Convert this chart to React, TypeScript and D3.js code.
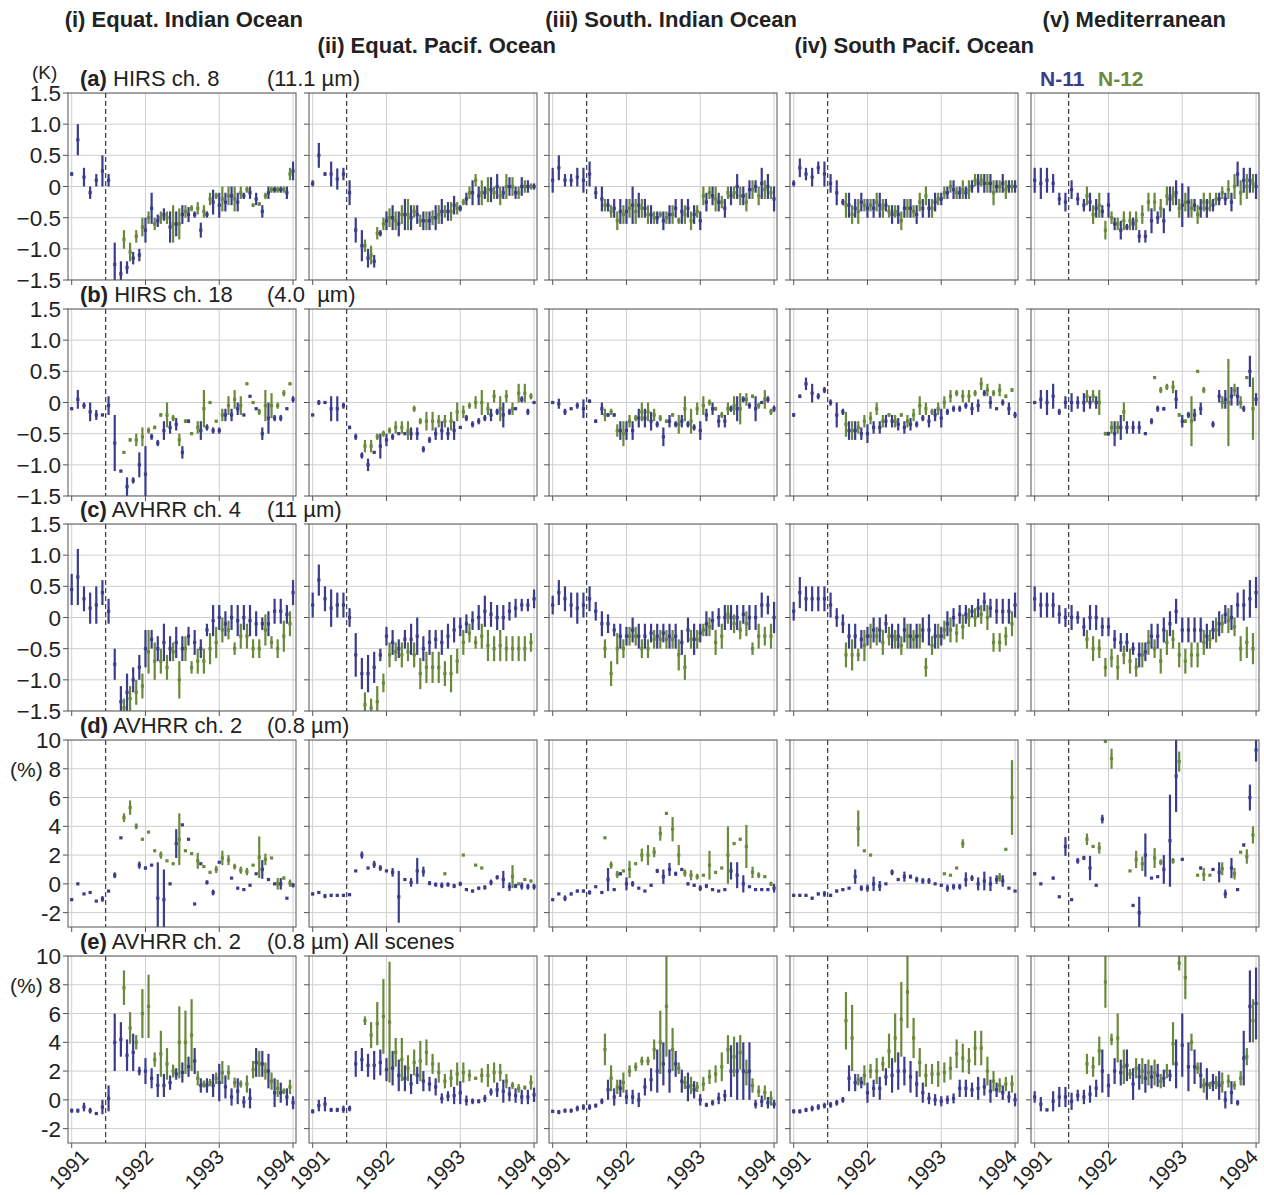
import React from 'react';
import * as d3 from 'd3';

type Pt = [number, number] | null; // [value, half error]

// N-11 monthly points, Jan 1991 .. Jan 1994
// N-12 points start Sep 1991 (offset half a month)
const REGIONS = ['(i) Equat. Indian Ocean', '(ii) Equat. Pacif. Ocean', '(iii) South. Indian Ocean', '(iv) South Pacif. Ocean', '(v) Mediterranean'];
const ROW_TITLES = ['HIRS ch. 8', 'HIRS ch. 18', 'AVHRR ch. 4', 'AVHRR ch. 2', 'AVHRR ch. 2'];
const ROW_TAGS = ['(a)', '(b)', '(c)', '(d)', '(e)'];
const ROW_WAVE = ['(11.1 µm)', '(4.0  µm)', '(11 µm)', '(0.8 µm)', '(0.8 µm) All scenes'];
const YEARS = [1991, 1992, 1993, 1994];
const K_TICKS = [-1.5, -1.0, -0.5, 0, 0.5, 1.0, 1.5];
const PCT_TICKS = [-2, 0, 2, 4, 6, 8, 10];
const ERUPTION = 1991.46;
const N12_START = 8;

const n11_a1: Pt[] = [[0.2,.03],[0.75,.25],[0.15,.15],[-0.1,.1],[0.1,.1],[0.25,.25],[0.1,.1],[-1.25,.35],[-1.4,.2],[-1.3,.1],[-1.15,.1],[-1.1,.1],[-0.7,.2],[-0.35,.25],[-0.55,.1],[-0.45,.1],[-0.65,.25],[-0.6,.2],[-0.45,.15],[-0.45,.12],[-0.45,.05],[-0.7,.12],[-0.45,.05],[-0.25,.2],[-0.3,.2],[-0.25,.15],[-0.15,.15],[-0.25,.15],[-0.15,.05],[-0.1,.1],[-0.2,.1],[-0.4,.1],[-0.1,.1],[-0.05,.05],[-0.05,.05],[-0.1,.1],[0.25,.15]];
const n12_a1: Pt[] = [[-0.85,.15],[-1.05,.15],[-0.8,.1],[-0.65,.15],[-0.5,.1],[-0.6,.1],[-0.5,.1],[-0.5,.1],[-0.6,.3],[-0.6,.25],[-0.4,.1],[-0.35,.05],[-0.35,.1],[-0.4,.1],[-0.2,.1],[-0.15,.05],[-0.2,.2],[-0.15,.15],[-0.2,.2],[-0.1,.1],[-0.05,.05],[-0.3,.03],[-0.28,.03],[-0.15,.05],[-0.05,.05],[-0.05,.05],[-0.05,.05],[0.2,.1]];
const n11_a2: Pt[] = [[0.05,.05],[0.5,.2],[0.2,.03],[0.2,.2],[0.12,.17],[0.2,.1],[-0.1,.2],[-0.7,.2],[-0.95,.25],[-1.15,.15],[-1.2,.1],[-0.75,.05],[-0.55,.15],[-0.5,.2],[-0.6,.2],[-0.45,.25],[-0.5,.2],[-0.45,.15],[-0.55,.15],[-0.55,.15],[-0.5,.2],[-0.4,.2],[-0.4,.15],[-0.3,.15],[-0.35,.05],[-0.2,.1],[-0.1,.2],[-0.15,.15],[-0.1,.1],[-0.05,.2],[0,.2],[-0.1,.1],[0,.15],[-0.1,.1],[0,.15],[0,.1],[0,.05]];
const n12_a2: Pt[] = [[-0.95,.1],[-1.1,.15],[-0.75,.1],[-0.6,.1],[-0.5,.15],[-0.55,.15],[-0.45,.15],[-0.45,.25],[-0.4,.1],[-0.55,.1],[-0.55,.15],[-0.5,.12],[-0.45,.15],[-0.4,.1],[-0.4,.15],[-0.35,.1],[-0.25,.05],[-0.1,.1],[0.1,.1],[-0.1,.2],[-0.05,.2],[-0.1,.1],[-0.15,.15],[0,.2],[0,.15],[-0.1,.1],[0,.1],[0,.05]];
const n11_a3: Pt[] = [[0.1,.2],[0.3,.2],[0.1,.1],[0.1,.1],[0.15,.15],[0.1,.2],[0.2,.2],[-0.1,.1],[-0.2,.2],[-0.3,.1],[-0.35,.15],[-0.4,.2],[-0.4,.2],[-0.3,.3],[-0.3,.2],[-0.35,.15],[-0.45,.15],[-0.5,.1],[-0.55,.15],[-0.45,.15],[-0.35,.15],[-0.4,.2],[-0.35,.15],[-0.45,.15],[-0.55,.15],[-0.25,.15],[-0.15,.15],[-0.25,.15],[-0.35,.15],[-0.15,.15],[0,.2],[-0.15,.15],[-0.05,.15],[0,.1],[0.05,.25],[0,.2],[-0.2,.2]];
const n12_a3: Pt[] = [[-0.3,.1],[-0.4,.1],[-0.55,.15],[-0.45,.15],[-0.35,.15],[-0.4,.2],[-0.35,.15],[-0.45,.15],[-0.5,.1],[-0.45,.05],[-0.5,.1],[-0.45,.15],[-0.55,.05],[-0.45,.15],[-0.55,.15],[-0.4,.1],[-0.15,.15],[-0.1,.1],[-0.2,.2],[-0.25,.1],[-0.1,.1],[-0.1,.1],[-0.15,.15],[-0.25,.15],[-0.05,.15],[-0.15,.15],[-0.05,.15],[-0.1,.1]];
const n11_a4: Pt[] = [[0.05,.05],[0.3,.15],[0.2,.1],[0.15,.15],[0.3,.1],[0.2,.2],[0.05,.15],[-0.1,.2],[-0.25,.05],[-0.3,.2],[-0.35,.15],[-0.25,.15],[-0.35,.15],[-0.35,.15],[-0.3,.2],[-0.3,.1],[-0.45,.15],[-0.45,.15],[-0.35,.15],[-0.35,.15],[-0.45,.15],[-0.35,.15],[-0.35,.15],[-0.25,.15],[-0.2,.1],[-0.1,.1],[-0.05,.15],[-0.1,.1],[-0.1,.1],[0,.1],[0.05,.15],[0.05,.15],[0.05,.15],[0,.1],[0.05,.15],[0,.1],[0,.1]];
const n12_a4: Pt[] = [[-0.3,.2],[-0.45,.15],[-0.4,.2],[-0.3,.1],[-0.3,.1],[-0.25,.15],[-0.35,.15],[-0.4,.1],[-0.4,.1],[-0.55,.15],[-0.35,.15],[-0.4,.1],[-0.25,.15],[-0.15,.15],[-0.35,.15],[-0.2,.1],[-0.1,.1],[0,.1],[-0.1,.1],[-0.05,.15],[-0.05,.15],[0.1,.1],[0.1,.1],[0.05,.15],[-0.1,.2],[0,.1],[-0.05,.15],[0,.1]];
const n11_a5: Pt[] = [[0.1,.2],[0.05,.25],[0.1,.2],[0.05,.15],[-0.2,.1],[-0.25,.15],[-0.05,.15],[-0.2,.1],[-0.3,.1],[-0.25,.15],[-0.35,.15],[-0.4,.1],[-0.3,.2],[-0.6,.1],[-0.7,.15],[-0.65,.05],[-0.6,.1],[-0.8,.1],[-0.8,.1],[-0.55,.2],[-0.5,.1],[-0.55,.2],[-0.2,.2],[-0.1,.2],[-0.3,.35],[-0.25,.25],[-0.3,.1],[-0.35,.15],[-0.35,.15],[-0.3,.1],[-0.2,.1],[-0.2,.1],[-0.25,.15],[0.2,.2],[0.1,.2],[0.1,.2],[0,.2]];
const n12_a5: Pt[] = [[-0.15,.15],[-0.45,.15],[-0.3,.2],[-0.7,.15],[-0.5,.1],[-0.6,.1],[-0.55,.15],[-0.55,.15],[-0.55,.15],[-0.45,.15],[-0.25,.15],[-0.25,.15],[-0.35,.15],[-0.15,.15],[-0.15,.15],[-0.35,.15],[-0.25,.15],[-0.35,.15],[-0.45,.15],[-0.25,.15],[-0.25,.15],[-0.2,.1],[-0.1,.1],[-0.05,.15],[0,.2],[-0.1,.2],[0,.2],[0.05,.15]];

const n11_b1: Pt[] = [[-0.1,.02],[0.05,.15],[-0.05,.05],[-0.15,.15],[-0.2,.08],[-0.2,.02],[-0.05,.15],[-0.65,.45],[-1.1,.02],[-1.35,.15],[-1.25,.05],[-1.0,.2],[-1.15,.45],[-0.55,.05],[-0.65,.05],[-0.45,.15],[-0.4,.1],[-0.35,.1],[-0.8,.1],[-0.3,.03],null,[-0.45,.15],[-0.4,.05],[-0.45,.05],[-0.45,.05],[-0.2,.1],[-0.2,.1],[-0.1,.1],[-0.2,.02],[0.1,.02],[-0.1,.02],[-0.5,.1],[-0.25,.25],[-0.25,.05],[-0.25,.05],[-0.1,.02],[0.05,.05]];
const n12_b1: Pt[] = [[-0.8,.02],[-0.6,.03],[-0.6,.1],[-0.55,.15],[-0.45,.05],[-0.4,.03],[-0.2,.03],[-0.2,.2],[-0.25,.05],[-0.6,.1],[-0.3,.03],[-0.5,.02],[-0.4,.1],[-0.1,.3],[0,.02],[-0.3,.02],[-0.2,.1],[-0.05,.15],[0.05,.15],[-0.05,.15],[0.3,.02],[0,.02],[-0.15,.05],[-0.05,.25],[-0.05,.2],[-0.05,.05],[0.15,.05],[0.3,.02]];
const n11_b2: Pt[] = [[-0.2,.02],[0,.04],[0,.02],[-0.1,.2],[-0.1,.2],[-0.05,.05],[-0.4,.03],[-0.55,.05],[-0.85,.05],[-1.0,.1],[-0.8,.02],[-0.7,.2],[-0.6,.1],[-0.55,.05],[-0.5,.02],[-0.5,.02],[-0.5,.1],[-0.5,.1],[-0.75,.05],[-0.6,.05],[-0.5,.1],[-0.45,.15],[-0.5,.1],[-0.45,.15],[-0.4,.02],[-0.25,.05],[-0.35,.05],[-0.3,.05],[-0.25,.05],[-0.2,.1],[-0.15,.05],[-0.2,.2],[-0.15,.05],[-0.1,.02],[0.05,.05],[-0.15,.05],[0,.02]];
const n12_b2: Pt[] = [[-0.7,.1],[-0.7,.1],[-0.55,.05],[-0.5,.05],[-0.45,.05],[-0.4,.1],[-0.4,.1],[-0.45,.15],[-0.1,.05],[-0.3,.05],[-0.3,.15],[-0.3,.15],[-0.3,.1],[-0.3,.1],[-0.3,.15],[-0.15,.15],[-0.15,.1],[-0.05,.05],[0,.1],[0,.2],[-0.1,.1],[0.1,.1],[-0.1,.2],[0.1,.1],[-0.1,.1],[0.15,.15],[0.15,.15],[0.1,.05]];
const n11_b3: Pt[] = [[0,.02],[-0.02,.08],[-0.15,.05],[-0.1,.02],[-0.05,.05],[-0.1,.15],[0.02,.03],[-0.3,.03],[-0.1,.1],[-0.2,.03],[-0.2,.03],[-0.45,.15],[-0.45,.15],[-0.45,.15],[-0.25,.15],[-0.25,.15],[-0.3,.15],[-0.35,.05],[-0.55,.15],[-0.3,.1],[-0.35,.05],[-0.3,.1],[-0.35,.05],[-0.4,.05],[-0.45,.15],[-0.2,.1],[-0.1,.1],[-0.3,.1],[-0.3,.1],[-0.1,.05],[-0.1,.2],[0.05,.05],[-0.05,.05],[-0.1,.2],[0,.02],[0.05,.05],[-0.1,.05]];
const n12_b3: Pt[] = [[-0.2,.1],[-0.15,.05],[-0.45,.1],[-0.5,.2],[-0.3,.1],[-0.25,.05],[-0.15,.15],[-0.15,.15],[-0.2,.1],[-0.25,.05],[-0.3,.03],[-0.2,.03],[-0.35,.15],[-0.1,.2],[-0.3,.2],[-0.1,.1],[-0.05,.15],[0,.05],[-0.1,.03],[-0.2,.05],[-0.1,.1],[-0.05,.15],[-0.1,.25],[0.05,.1],[0.1,.03],[-0.05,.05],[0.05,.15],[-0.15,.05]];
const n11_b4: Pt[] = [[-0.2,.03],[0.1,.03],[0.3,.1],[0.15,.15],[0.1,.05],[0.2,.05],[0,.05],[-0.2,.2],[-0.15,.05],[-0.45,.15],[-0.45,.15],[-0.5,.1],[-0.5,.15],[-0.4,.1],[-0.4,.1],[-0.3,.1],[-0.3,.1],[-0.35,.1],[-0.4,.1],[-0.35,.1],[-0.35,.05],[-0.25,.05],[-0.3,.1],[-0.2,.1],[-0.25,.15],[-0.15,.05],[-0.1,.05],[-0.1,.05],[-0.05,.05],[-0.1,.1],[-0.05,.1],[0.15,.05],[0,.1],[-0.1,.02],[0,.05],[-0.1,.1],[-0.2,.05]];
const n12_b4: Pt[] = [[-0.35,.2],[-0.45,.15],[-0.4,.1],[-0.3,.1],[-0.25,.1],[-0.1,.1],[-0.3,.1],[-0.2,.03],[-0.3,.1],[-0.2,.03],[-0.3,.1],[-0.2,.1],[-0.05,.15],[-0.1,.1],[-0.15,.05],[-0.1,.1],[0,.1],[0.1,.1],[0.15,.05],[0.1,.1],[0.1,.1],[0.15,.05],[0.3,.1],[0.2,.1],[0.15,.05],[0.2,.1],[0.1,.03],[0.2,.03]];
const n11_b5: Pt[] = [[0,.02],[0.05,.15],[0,.2],[0.1,.2],[-0.15,.05],[0,.1],[0,.15],[0,.1],[0,.15],[0,.1],[0,.1],null,[-0.5,.03],[-0.5,.2],[-0.4,.2],[-0.4,.1],[-0.4,.1],[-0.4,.1],[-0.5,.02],[-0.3,.05],[-0.1,.05],[-0.1,.03],null,[0.05,.15],[-0.3,.1],[-0.2,.05],[-0.2,.1],[-0.1,.1],null,[-0.35,.05],[0.1,.1],[0.05,.15],[0.1,.15],[0.1,.15],[-0.1,.05],[0.5,.25],[0.05,.1]];
const n12_b5: Pt[] = [[0.1,.1],[0.1,.1],[0,.2],[-0.5,.03],[-0.4,.1],[-0.4,.1],[-0.15,.15],null,null,null,null,[0.4,.02],[0.2,.05],[0.25,.05],[0.25,.1],[-0.2,.03],[-0.3,.03],[-0.3,.4],[0.5,.02],[0.2,.05],null,null,[0,.1],[0,.7],[0.2,.1],[0,.1],[0.4,.02],[-0.1,.5]];

const n11_c1: Pt[] = [[0.45,.25],[0.65,.45],[0.3,.2],[0.15,.25],[0.2,.3],[0.4,.2],[0.1,.2],[-0.75,.25],[-1.35,.25],[-1.2,.3],[-1.0,.2],[-0.8,.2],[-0.5,.3],[-0.35,.15],[-0.5,.2],[-0.4,.3],[-0.5,.2],[-0.4,.25],[-0.5,.2],[-0.3,.15],[-0.4,.2],[-0.5,.15],[-0.2,.1],[-0.05,.25],[0,.2],[-0.1,.2],[0,.2],[-0.05,.25],[0,.2],[-0.05,.25],[-0.1,.2],[-0.1,.1],[-0.1,.2],[0.1,.2],[0.1,.2],[0.05,.15],[0.4,.2]];
const n12_c1: Pt[] = [[-1.45,.15],[-1.3,.2],[-1.2,.2],[-1.1,.2],[-0.55,.35],[-0.7,.3],[-0.7,.2],[-0.8,.2],[-0.55,.15],[-1.0,.3],[-0.5,.2],[-0.8,.1],[-0.7,.2],[-0.7,.2],[-0.5,.25],[-0.4,.25],[-0.2,.2],[-0.2,.15],[-0.5,.1],[-0.3,.2],[-0.3,.2],[-0.5,.15],[-0.5,.15],[-0.2,.25],[-0.4,.1],[-0.5,.15],[-0.3,.25],[-0.1,.2]];
const n11_c2: Pt[] = [[0.2,.2],[0.6,.25],[0.3,.2],[0.15,.3],[0.2,.2],[0.2,.2],[0,.15],[-0.6,.35],[-0.9,.25],[-0.9,.3],[-0.8,.25],[-0.6,.1],[-0.3,.15],[-0.4,.2],[-0.5,.15],[-0.35,.15],[-0.35,.25],[-0.3,.3],[-0.5,.2],[-0.4,.2],[-0.35,.15],[-0.4,.2],[-0.3,.2],[-0.2,.2],[-0.15,.15],[-0.1,.15],[-0.05,.15],[0,.2],[0.1,.25],[0.05,.2],[0,.2],[0,.2],[0.1,.15],[0.15,.15],[0.2,.1],[0.2,.1],[0.3,.15]];
const n12_c2: Pt[] = [[-1.4,.2],[-1.45,.15],[-1.35,.25],[-1.05,.15],[-0.6,.2],[-0.55,.15],[-0.6,.2],[-0.55,.15],[-0.6,.2],[-0.9,.25],[-0.8,.25],[-0.8,.25],[-0.8,.25],[-0.9,.2],[-0.9,.3],[-0.7,.2],[-0.4,.2],[-0.25,.15],[-0.4,.1],[-0.3,.2],[-0.45,.25],[-0.5,.2],[-0.45,.25],[-0.5,.2],[-0.5,.2],[-0.5,.2],[-0.5,.2],[-0.4,.15]];
const n11_c3: Pt[] = [[0.2,.15],[0.4,.2],[0.3,.2],[0.2,.2],[0.15,.25],[0.2,.2],[0.3,.2],[0.1,.15],[-0.1,.2],[-0.1,.15],[-0.2,.1],[-0.3,.2],[-0.3,.15],[-0.2,.2],[-0.3,.2],[-0.3,.2],[-0.25,.15],[-0.3,.2],[-0.25,.15],[-0.3,.2],[-0.3,.2],[-0.4,.2],[-0.2,.2],[-0.35,.25],[-0.25,.15],[-0.1,.2],[-0.05,.15],[0,.15],[0,.2],[0,.2],[0,.2],[0.05,.15],[0,.2],[0,.2],[0.2,.2],[0.2,.15],[0,.25]];
const n12_c3: Pt[] = [[-0.5,.15],[-0.9,.2],[-0.5,.25],[-0.5,.15],[-0.3,.15],[-0.3,.15],[-0.5,.15],[-0.5,.15],[-0.35,.15],[-0.35,.15],[-0.35,.15],[-0.35,.15],[-0.6,.25],[-0.8,.2],[-0.35,.15],[-0.35,.15],[-0.2,.1],[-0.15,.15],[-0.4,.2],[-0.3,.2],[0.05,.15],[-0.1,.15],[-0.2,.15],[-0.1,.2],[-0.5,.1],[-0.3,.2],[-0.3,.15],[-0.3,.2]];
const n11_c4: Pt[] = [[0.1,.15],[0.4,.25],[0.3,.2],[0.3,.2],[0.3,.2],[0.3,.2],[0.2,.2],[0,.15],[-0.1,.15],[-0.3,.2],[-0.3,.2],[-0.35,.15],[-0.3,.15],[-0.2,.2],[-0.2,.2],[-0.1,.15],[-0.3,.2],[-0.3,.2],[-0.2,.2],[-0.3,.2],[-0.3,.2],[-0.2,.2],[-0.2,.25],[-0.3,.2],[-0.3,.15],[-0.1,.2],[0,.15],[0.05,.15],[0.05,.15],[0.1,.1],[0.15,.15],[0.25,.15],[0.15,.15],[0.1,.2],[0.1,.2],[0.1,.2],[0.2,.2]];
const n12_c4: Pt[] = [[-0.6,.2],[-0.6,.25],[-0.6,.1],[-0.45,.25],[-0.3,.2],[-0.3,.15],[-0.4,.2],[-0.3,.15],[-0.35,.15],[-0.45,.15],[-0.3,.2],[-0.35,.15],[-0.3,.2],[-0.8,.15],[-0.45,.15],[-0.3,.2],[-0.2,.15],[-0.2,.2],[-0.25,.15],[-0.15,.2],[0,.15],[0,.15],[0.05,.15],[0,.2],[-0.4,.15],[-0.4,.15],[-0.3,.15],[-0.1,.2]];
const n11_c5: Pt[] = [[0.3,.2],[0.2,.2],[0.2,.2],[0.2,.2],[0.05,.15],[0,.15],[0,.2],[0,.1],[-0.15,.15],[0,.2],[0,.2],[-0.15,.15],[-0.15,.15],[-0.35,.15],[-0.4,.15],[-0.4,.15],[-0.5,.1],[-0.6,.2],[-0.55,.15],[-0.3,.2],[-0.3,.2],[-0.2,.2],[-0.1,.2],[0.1,.2],[-0.2,.2],[-0.2,.2],[-0.2,.2],[-0.2,.2],[-0.3,.2],[-0.2,.15],[-0.1,.2],[0.05,.15],[0,.2],[0.2,.2],[0.2,.25],[0.3,.3],[0.4,.25]];
const n12_c5: Pt[] = [[-0.35,.15],[-0.5,.2],[-0.5,.15],[-0.8,.15],[-0.65,.15],[-0.8,.2],[-0.6,.15],[-0.7,.2],[-0.8,.15],[-0.6,.2],[-0.4,.2],[-0.5,.15],[-0.7,.2],[-0.4,.2],[-0.35,.15],[-0.6,.2],[-0.7,.2],[-0.6,.2],[-0.6,.2],[-0.4,.2],[-0.35,.15],[-0.2,.2],[-0.1,.15],[-0.05,.2],[-0.15,.15],[-0.5,.2],[-0.4,.25],[-0.5,.25]];

const n11_d1: Pt[] = [[-1.1,.05],[0,.05],[-0.7,.05],[-0.6,.05],[-1.2,.05],[-1.05,.2],[-0.5,.05],[0.6,.2],[3.2,.05],null,null,[1.3,.25],[1.1,.1],[1.3,.05],[-1,2.5],[-1.1,2.1],[0,.05],[2.8,1.0],[4.1,.05],[3.1,.05],[-1.4,.05],[1.4,.05],[0.1,.15],[-0.6,.2],[1.5,.05],null,[0.4,.05],[-0.3,.05],[-0.4,.05],[-0.1,.05],[0.7,.05],[1.0,.65],[0.3,.05],[0,.05],[0,.4],[-1.0,.05],[-0.1,.15]];
const n12_d1: Pt[] = [[4.6,.3],[5.3,.5],[4.0,.2],[3.1,.05],[3.6,.05],[2.3,.05],[2.0,.25],[1.6,.05],[1.4,.05],[3.1,1.8],[2.3,.05],[2.1,.05],[1.6,.55],[1.2,.05],[0.8,.05],[1.0,.25],[1.8,.5],[1.65,.35],[1.2,.2],[0.95,.25],[0.85,.25],[1.3,.05],[1.85,1.45],[1.7,.4],[1.8,.05],[0,.4],[0.4,.1],[0.05,.25]];
const n11_d2: Pt[] = [[-0.7,.1],[-0.6,.05],[-0.85,.15],[-0.8,.1],[-0.8,.05],[-0.8,.1],[-0.75,.1],[0.9,.05],[2.0,.25],[1.1,.05],[1.35,.25],[1.1,.2],[0.9,.05],[0.8,.3],[-0.9,1.8],[0.3,.1],[0.1,.3],[0.9,.9],[0.85,.35],[0.05,.15],[-0.05,.15],[-0.1,.2],[-0.05,.15],[-0.15,.15],[0,.15],[-0.4,.1],[-0.5,.1],[-0.3,.1],[-0.25,.15],[0.1,.2],[0.45,.15],[0.3,.6],[-0.2,.3],[-0.15,.15],[-0.15,.25],[-0.2,.2],[-0.2,.2]];
const n12_d2: Pt[] = [null,null,null,null,null,null,null,null,null,null,null,null,null,[0.7,.05],null,null,[2.0,.05],null,[1.3,.05],[1.1,.05],null,null,null,null,[0.5,.8],[0,.05],[0.3,.05],[0.2,.05]];
const n11_d3: Pt[] = [[-1.1,.05],[-0.7,.05],[-1.0,.2],[-0.7,.1],[-0.5,.1],[-0.5,.1],[-0.6,.15],[-0.2,.05],[-0.6,.1],[0.3,.8],[-0.4,.05],[0.7,.1],[0,.45],[0,.2],[-0.3,.05],[-0.5,.05],[-0.1,.1],[0.9,.15],[0.5,.5],[1.0,.45],[0.7,.15],[1.0,.05],[0,.1],[-0.1,.1],[-0.3,.2],[-0.15,.15],[-0.4,.05],[-0.5,.05],[-0.4,.05],[0.9,.6],[0.6,.9],[0,.6],[-0.2,.05],[-0.4,.05],[-0.4,.05],[-0.4,.05],[-0.3,.3]];
const n12_d3: Pt[] = [[3.2,.05],[1.3,.25],[0.65,.25],[0.9,.05],[1.0,.6],[1.4,.05],[2.0,.45],[2.0,.7],[2.2,.35],[3.5,.5],[4.9,.05],[3.8,.85],[2.0,.7],[0.75,.25],[0.6,.35],[0.5,.2],[0.6,.05],[1.3,1.0],[0.8,.05],[1.1,.05],[2.0,2.0],[2.8,.05],[3.1,.05],[2.6,1.5],[0.8,.4],[0.6,.2],[0.5,.05],[0,.15]];
const n11_d4: Pt[] = [[-0.8,.1],[-0.8,.1],[-0.8,.1],[-1.0,.1],[-0.7,.1],[-0.7,.2],[-0.8,.1],[-0.5,.1],[-0.4,.1],[-0.3,.05],[0.5,.5],[-0.3,.2],[-0.3,.25],[0,.5],[-0.15,.35],[0,.05],[0.8,.2],[0.3,.05],[0.5,.35],[0.5,.15],[0.3,.2],[0.2,.2],[0.2,.2],[0,.05],[-0.1,.1],[-0.3,.25],[-0.2,.2],[-0.2,.2],[0.3,.5],[0.4,.2],[0,.45],[0.2,.65],[0,.5],[0.3,.3],[0.2,.4],[-0.3,.05],[-0.5,.05]];
const n12_d4: Pt[] = [null,null,[3.85,1.25],[2.3,.05],[2.0,.05],null,null,null,null,null,null,null,null,null,null,null,[0.7,.05],[0.6,.05],[1.1,.05],[2.8,.3],null,null,null,null,null,[0.45,.3],[2.4,.05],[6.0,2.6]];
const n11_d5: Pt[] = [[0.7,.1],[0,.05],null,[0.4,.1],[-0.9,.05],[2.6,.65],[-1.1,.05],[1.6,.2],[1.8,.15],[1.1,.85],[-0.1,.05],[4.5,.3],null,null,null,null,[-1.5,.05],[-2.0,1.1],[2.0,1.5],[0.4,.05],[0.5,.05],[1.0,1.0],[3.0,3.2],[7.5,2.5],[1.7,.05],null,null,[1.1,.1],null,[1.0,.1],[0.8,.7],[-0.7,.3],[1.1,.7],[-0.4,.05],[2.7,.1],[6.0,.9],[9.3,.8]];
const n12_d5: Pt[] = [[3.1,.4],[2.6,.05],[2.5,.4],[9.9,.1],[8.7,.7],null,null,[0.9,.05],[1.7,.6],[1.4,.5],null,[1.8,.7],[1.5,.2],null,[1.6,.2],[8.5,.7],null,null,[0.6,.05],[0.65,.45],[0.6,.05],null,[1.05,.45],null,[0.7,.4],[2.2,.05],[1.9,.5],[3.4,.6]];

const n11_e1: Pt[] = [[-0.75,.15],[-0.75,.15],[-0.5,.3],[-0.75,.2],[-0.95,.1],[-0.5,.5],[0.1,.9],[4.0,2.0],[4.2,1.2],[3.1,1.1],[3.3,1.3],[2.0,.3],[2.0,.9],[1.5,.7],[1.0,.8],[1.0,.8],[1.2,.5],[1.8,.4],[1.9,.7],[2.3,.7],[2.7,.9],[1.0,.5],[1.0,.5],[1.0,.8],[1.2,1.3],[0.9,.8],[0.2,.6],[0.6,.9],[-0.15,.4],[0.1,.7],[2.6,1.0],[2.5,.9],[2.0,1.2],[0.5,1.0],[0.5,.7],[0.2,.6],[-0.2,.45]];
const n12_e1: Pt[] = [[7.8,1.2],[5.0,1.1],[4.0,.5],[6.0,1.7],[6.5,2.2],[2.8,.5],[3.2,1.6],[2.5,1.1],[2.0,.45],[4.0,2.5],[4.0,2.2],[4.5,2.5],[1.5,.5],[1.1,.25],[1.2,.25],[1.5,.4],[1.9,.8],[1.9,.5],[1.2,.35],[1.1,.25],[1.1,.6],[2.1,.6],[2.5,.9],[2.0,.6],[1.3,.6],[0.8,.6],[0.6,.2],[0.9,.5]];
const n11_e2: Pt[] = [[-0.8,.15],[-0.4,.4],[-0.3,.5],[-0.7,.15],[-0.7,.15],[-0.65,.25],[-0.6,.2],[2.5,.9],[2.8,.8],[2.4,.8],[2.4,1.0],[2.6,.9],[2.1,.8],[2.2,1.2],[1.7,1.1],[1.5,.9],[1.1,.7],[1.7,.6],[1.3,.7],[1.1,.5],[0.9,.6],[0.1,.35],[0.25,.35],[0.3,.6],[0.5,.8],[-0.05,.35],[-0.1,.2],[-0.1,.15],[0.1,.25],[0.55,.25],[0.7,.5],[0.6,.8],[0.4,.5],[0.3,.5],[0.2,.5],[0.2,.5],[0.35,.5]];
const n12_e2: Pt[] = [[5.5,.3],[4.5,.9],[5.3,1.5],[5.8,2.6],[5.4,4.2],[3.3,1.0],[2.8,1.5],[2.2,.9],[2.6,.9],[2.7,1.4],[3.3,.9],[2.5,.7],[1.9,.7],[1.3,.5],[1.5,.6],[1.8,.8],[1.9,.7],[1.7,.4],[1.5,.1],[1.7,.5],[1.7,.8],[1.9,.7],[1.9,.6],[1.3,.5],[1.0,.25],[0.8,.3],[0.85,.15],[1.2,.5]];
const n11_e3: Pt[] = [[-0.8,.1],[-0.85,.15],[-0.75,.15],[-0.75,.15],[-0.6,.2],[-0.5,.2],[-0.5,.2],[-0.4,.15],[-0.1,.2],[0.7,.7],[0.2,.6],[0.8,.6],[0.2,.5],[0.2,.5],[0,.5],[0.9,.6],[1.4,.8],[2.0,1.5],[2.5,1.5],[2.0,1.5],[2.5,.9],[1.3,.8],[0.9,1.0],[0.7,.6],[0,.4],[-0.35,.15],[-0.2,.2],[0.1,.4],[0.3,.4],[2.0,1.8],[2.0,2.0],[2.0,2.0],[2.0,2.0],[-0.3,.3],[-0.1,.4],[-0.2,.4],[-0.3,.3]];
const n12_e3: Pt[] = [[3.5,1.1],[1.5,.9],[0.9,.5],[1.2,.7],[2.0,.4],[2.3,.3],[2.7,.3],[2.7,.3],[3.5,.7],[4.0,2.2],[6.5,3.5],[3.5,1.5],[2.2,.4],[1.2,.45],[1.0,.6],[0.9,.35],[1.1,.5],[1.6,.5],[1.8,.6],[2.3,1.0],[3.5,1.0],[3.0,1.4],[3.3,1.2],[1.9,.9],[1.0,.5],[0.6,.4],[0.5,.5],[0.1,.5]];
const n11_e4: Pt[] = [[-0.8,.15],[-0.8,.15],[-0.7,.15],[-0.6,.2],[-0.5,.2],[-0.4,.2],[-0.35,.2],[-0.2,.2],[0,.2],[1.5,.9],[1.2,.6],[1.2,.4],[0.5,.7],[0.8,.6],[0.8,.8],[1.6,.6],[1.7,1.2],[2.0,1.3],[2.0,1.0],[1.6,1.1],[1.1,.9],[0.5,.7],[0.1,.4],[0,.4],[-0.1,.35],[0,.3],[0.1,.35],[0.8,.6],[0.8,.6],[0.7,.5],[0.8,.8],[0.9,.6],[0.6,.8],[0.7,.5],[0.5,.5],[0.2,.4],[0,.45]];
const n12_e4: Pt[] = [[5.5,2.0],[4.3,2.3],[1.4,.4],[1.7,.7],[2.0,.5],[2.0,.9],[2.5,.5],[3.4,1.2],[4.3,1.7],[5.6,2.6],[7.5,2.5],[4.3,1.4],[2.6,1.0],[1.7,.8],[1.8,.7],[1.8,.9],[1.9,.7],[2.2,.8],[3.2,1.0],[2.9,1.0],[2.7,.9],[3.6,1.2],[3.6,1.2],[2.0,1.0],[1.3,.7],[1.0,.5],[1.1,.5],[1.1,.6]];
const n11_e5: Pt[] = [[0.2,.4],[-0.3,.5],[-0.7,.1],[-0.1,.7],[0.2,.7],[0.2,.7],[-0.1,.6],[0.3,.4],[0.2,.5],[0.4,.6],[0.8,.6],[2.0,1.5],[1.0,.8],[2.0,.9],[1.9,.9],[2.4,1.1],[1.1,1.1],[1.6,.9],[1.5,1.0],[1.6,.8],[1.7,.8],[1.5,.6],[1.7,.4],[2.5,1.7],[3.8,2.2],[2.3,1.7],[2.3,1.2],[1.7,.9],[1.1,1.1],[1.2,.6],[1.0,1.0],[0,.6],[0.5,.8],[-0.2,.2],[2.9,1.9],[6.5,2.5],[6.7,2.5]];
const n12_e5: Pt[] = [[2.5,.7],[2.3,.7],[3.4,1.0],[8.2,1.8],[4.2,.4],[4.3,1.7],[2.3,1.2],[1.8,.35],[2.2,.7],[2.0,.9],[1.9,.9],[1.9,.9],[1.3,.5],[2.0,.5],[3.9,1.5],[9.5,.5],[8.5,1.5],[4.0,.6],[2.2,.4],[1.0,.5],[1.0,.25],[1.2,.45],[1.2,.7],[1.3,.45],[1.0,.3],[1.5,.5],[3.0,.6],[5.5,1.5]];

const N11: Pt[][][] = [
  [n11_a1, n11_a2, n11_a3, n11_a4, n11_a5],
  [n11_b1, n11_b2, n11_b3, n11_b4, n11_b5],
  [n11_c1, n11_c2, n11_c3, n11_c4, n11_c5],
  [n11_d1, n11_d2, n11_d3, n11_d4, n11_d5],
  [n11_e1, n11_e2, n11_e3, n11_e4, n11_e5],
];
const N12: Pt[][][] = [
  [n12_a1, n12_a2, n12_a3, n12_a4, n12_a5],
  [n12_b1, n12_b2, n12_b3, n12_b4, n12_b5],
  [n12_c1, n12_c2, n12_c3, n12_c4, n12_c5],
  [n12_d1, n12_d2, n12_d3, n12_d4, n12_d5],
  [n12_e1, n12_e2, n12_e3, n12_e4, n12_e5],
];

const BLUE = '#3b3d8c';
const GREEN = '#6a8a3b';
const GRID = '#cfcfcf';
const FONT = '"Liberation Sans", Arial, sans-serif';

const COL_X = [68, 309, 549, 790, 1031];
const ROW_Y = [93, 309, 524, 740, 956];
const W = 228;
const H = 187;
// right ends of the region titles, staggered on two lines
const REGION_END = [303, 556, 797, 1034, 1226];
// year labels sit a little right of their ticks, less so towards 1994
const YEAR_SHIFT = [18, 9, 6, 3];

function Series({ data, start, x, y, color }: any) {
  return (
    <g>
      {data.map((p: Pt, i: number) => {
        if (!p) return null;
        const t = 1991 + (start + i) / 12;
        const cx = x(t);
        const [v, e] = p;
        return (
          <g key={i}>
            <line x1={cx} x2={cx} y1={y(v + e)} y2={y(v - e)} stroke={color} strokeWidth={2.2} />
            <rect x={cx - 1.6} y={y(v) - 1.6} width={3.2} height={3.2} fill={color} />
          </g>
        );
      })}
    </g>
  );
}

function Panel({ row, col }: { row: number; col: number }) {
  const x0 = COL_X[col];
  const y0 = ROW_Y[row];
  const pct = row >= 3;
  const ticks = pct ? PCT_TICKS : K_TICKS;
  const x = d3.scaleLinear().domain([1990.95, 1994.04]).range([x0, x0 + W]);
  const y = d3.scaleLinear().domain(pct ? [-3, 10] : [-1.5, 1.5]).range([y0 + H, y0]);
  const id = `clip-${row}-${col}`;
  const fmt = (v: number) => (pct ? String(v) : v === 0 ? '0' : d3.format('.1f')(v));
  return (
    <g>
      <defs>
        <clipPath id={id}>
          <rect x={x0} y={y0} width={W} height={H} />
        </clipPath>
      </defs>
      <g clipPath={`url(#${id})`}>
        {ticks.map((t) => (
          <line key={'gy' + t} x1={x0} x2={x0 + W} y1={y(t)} y2={y(t)} stroke={GRID} strokeWidth={1} />
        ))}
        {YEARS.map((yr) => (
          <line key={'gx' + yr} x1={x(yr)} x2={x(yr)} y1={y0} y2={y0 + H} stroke={GRID} strokeWidth={1} />
        ))}
        <line x1={x(ERUPTION)} x2={x(ERUPTION)} y1={y0} y2={y0 + H} stroke="#444" strokeWidth={1.3} strokeDasharray="5,3" />
        <Series data={N12[row][col]} start={N12_START + 0.5} x={x} y={y} color={GREEN} />
        <Series data={N11[row][col]} start={0} x={x} y={y} color={BLUE} />
      </g>
      <rect x={x0} y={y0} width={W} height={H} fill="none" stroke="#555" strokeWidth={1} />
      {ticks.map((t) => (
        <line key={'ty' + t} x1={x0 - 5} x2={x0} y1={y(t)} y2={y(t)} stroke="#555" strokeWidth={1} />
      ))}
      {YEARS.map((yr) => (
        <line key={'tx' + yr} x1={x(yr)} x2={x(yr)} y1={y0 + H} y2={y0 + H + 5} stroke="#555" strokeWidth={1} />
      ))}
      {col === 0 &&
        ticks.map((t) => (
          <text key={'ly' + t} x={x0 - 7} y={y(t)} dy="0.36em" textAnchor="end" fontSize={22.5} fill="#222">
            {fmt(t)}
          </text>
        ))}
      {row === 4 &&
        YEARS.map((yr, i) => (
          <text
            key={'lx' + yr}
            transform={`translate(${x(yr) + YEAR_SHIFT[i] - 10},${y0 + H + 5}) rotate(-45)`}
            textAnchor="end"
            dy="0.7em"
            fontSize={20.5}
            fill="#222"
          >
            {yr}
          </text>
        ))}
    </g>
  );
}

export default function App() {
  return (
    <div style={{ position: 'absolute', left: 0, top: 0 }}>
      <svg width={1264} height={1195} fontFamily={FONT} style={{ display: 'block', background: '#fff' }}>
        {REGIONS.map((r, i) => (
          <text key={r} x={REGION_END[i]} y={i % 2 === 0 ? 27 : 53} textAnchor="end" fontSize={22} fontWeight="bold" fill="#222">
            {r}
          </text>
        ))}
        {ROW_TITLES.map((t, r) => (
          <g key={r}>
            <text x={80} y={ROW_Y[r] - 7} fontSize={22} fill="#222">
              <tspan fontWeight="bold">{ROW_TAGS[r]}</tspan> {t}
            </text>
            <text x={267} y={ROW_Y[r] - 7} fontSize={22} fill="#222" style={{ whiteSpace: 'pre' }}>
              {ROW_WAVE[r]}
            </text>
          </g>
        ))}
        <text x={32} y={79} fontSize={19} fill="#222">(K)</text>
        <text x={10} y={777} fontSize={21} fill="#222">(%)</text>
        <text x={10} y={993} fontSize={21} fill="#222">(%)</text>
        <text x={1040} y={86} fontSize={21} fontWeight="bold" fill={BLUE}>N-11</text>
        <text x={1098} y={86} fontSize={21} fontWeight="bold" fill={GREEN}>N-12</text>
        {ROW_Y.map((_, r) => COL_X.map((__, c) => <Panel key={`${r}-${c}`} row={r} col={c} />))}
      </svg>
    </div>
  );
}
